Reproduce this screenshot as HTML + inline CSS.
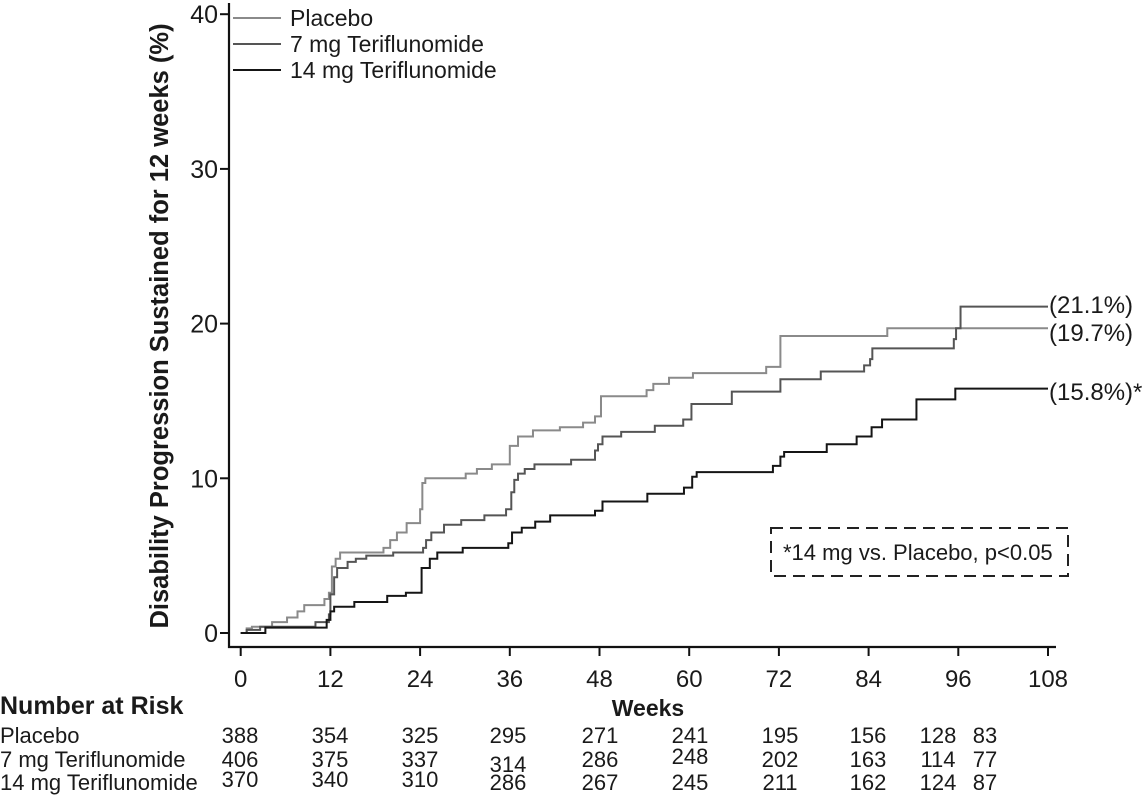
<!DOCTYPE html>
<html><head><meta charset="utf-8"><style>
body{margin:0;background:#fff;}
svg text{font-family:"Liberation Sans",Arial,sans-serif;fill:#1a1a1a;}
</style></head><body>
<svg id="chart" width="1144" height="801" viewBox="0 0 1144 801" xmlns="http://www.w3.org/2000/svg">
<g id="axes"></g>
<g id="series"></g>
<g id="legend"></g>
<g id="risk"></g>
<text x="168" y="326" font-size="25.5" font-weight="bold" text-anchor="middle" transform="rotate(-90 168 326)">Disability Progression Sustained for 12 weeks (%)</text>
<text x="648" y="716" font-size="23" font-weight="bold" text-anchor="middle">Weeks</text>
<text x="0" y="714" font-size="25" font-weight="bold">Number at Risk</text>
<rect x="771" y="528" width="297" height="48" fill="none" stroke="#222" stroke-width="2" stroke-dasharray="12,7"/>
<text x="783" y="560" font-size="22">*14 mg vs. Placebo, p&lt;0.05</text>
</svg>
<script>
const xTicks=[0,12,24,36,48,60,72,84,96,108];
const yTicks=[0,10,20,30,40];
const seriesNames=["Placebo","7 mg Teriflunomide","14 mg Teriflunomide"];
const seriesColors=["#8a8a8a","#555","#151515"];
const placeboWeeks=[0,0.8,1.5,4.2,6.2,7.6,8.5,11.2,11.8,12.2,12.7,13.3,19.1,20,20.9,22.2,24,24.3,24.7,30.1,31.6,33.6,36,37.1,39.1,42.7,45.8,47.4,48.2,54.3,55.2,57.3,60.5,70.3,72.2,86.5,108];
const placeboVals=[0,0.3,0.4,0.7,1.0,1.4,1.8,2.2,2.6,4.3,4.8,5.2,5.5,6.0,6.5,7.1,8.0,9.7,10.0,10.3,10.6,10.9,12.1,12.7,13.1,13.3,13.6,14.0,15.3,15.7,16.1,16.5,16.8,17.2,19.2,19.7,19.7];
const mg7Weeks=[0,0.8,2.6,10,11.8,12,12.5,12.9,14.3,15.4,16.8,20.4,24.4,24.8,25.5,27.2,29.5,32.6,35.5,36.2,36.6,37.1,38,39.3,44.2,47.4,47.8,48.4,50.9,55.4,59.2,60.3,65.7,72.2,77.6,83.4,84.2,84.5,95.4,95.7,96.3,108];
const mg7Vals=[0,0.2,0.4,0.7,1.2,2.5,3.6,4.2,4.6,4.8,5.0,5.2,5.5,6.0,6.5,7.0,7.3,7.6,8.0,9.1,9.9,10.3,10.6,10.9,11.2,11.8,12.2,12.7,13.0,13.4,13.8,14.8,15.6,16.4,16.9,17.3,17.7,18.4,19.0,19.7,21.1,21.1];
const mg14Weeks=[0,3.3,11.5,12,12.5,15.2,19.6,22.1,24.2,25.3,26.3,29.7,35.8,36.3,37.6,39.4,41.4,47.4,48.4,54.4,59.3,60.4,61,71.2,72.2,72.7,78.4,82.4,84.4,85.8,90.4,95.6,108];
const mg14Vals=[0,0.35,0.85,1.4,1.7,2.0,2.4,2.6,4.2,4.8,5.2,5.5,5.8,6.5,6.8,7.2,7.6,7.9,8.5,9.0,9.4,10.1,10.4,10.8,11.4,11.7,12.2,12.7,13.3,13.8,15.1,15.8,15.8];
const endLabels=["(19.7%)","(21.1%)","(15.8%)*"];
const riskPlacebo=[388,354,325,295,271,241,195,156,128,83];
const risk7=[406,375,337,314,286,248,202,163,114,77];
const risk14=[370,340,310,286,267,245,211,162,124,87];
const NS="http://www.w3.org/2000/svg";
const X=w=>240.7+w*7.475, Y=v=>633-v*15.47;
function mk(tag,attrs,parent,txt){const e=document.createElementNS(NS,tag);for(const k in attrs)e.setAttribute(k,attrs[k]);if(txt!==undefined)e.textContent=txt;parent.appendChild(e);return e;}
const ax=document.getElementById('axes');
let e=mk('path',{d:'M229,3 V647 H1056',fill:'none',stroke:'#111','stroke-width':2.2},ax);


xTicks.forEach(t=>{
 let l=mk('line',{x1:X(t),x2:X(t),y1:647,y2:656,stroke:'#111','stroke-width':2},ax);
 
 
 let tx=mk('text',{x:X(t),y:687,'font-size':24,'text-anchor':'middle'},ax,t);
 
 
});
yTicks.forEach(t=>{
 let l=mk('line',{x1:220,x2:229,y1:Y(t),y2:Y(t),stroke:'#111','stroke-width':2},ax);
 
 
 let tx=mk('text',{x:218,y:Y(t)+9,'font-size':25,'text-anchor':'end'},ax,t);
 
 
});
const sg=document.getElementById('series');
const data=[[placeboWeeks,placeboVals],[mg7Weeks,mg7Vals],[mg14Weeks,mg14Vals]];
const labelY=[341,313,400];
const sNames=['placebo-curve','7mg-curve','14mg-curve'];
data.forEach(([ws,vs],i)=>{
 let d='M'+X(ws[0])+','+Y(vs[0]);
 for(let k=1;k<ws.length;k++){d+=' H'+X(ws[k])+' V'+Y(vs[k]);}
 let p=mk('path',{d:d,fill:'none',stroke:seriesColors[i],'stroke-width':2},sg);
 
 
 let lb=mk('text',{x:1049,y:labelY[i],'font-size':24},sg,endLabels[i]);
 
 
});
const lg=document.getElementById('legend');
seriesNames.forEach((n,i)=>{
 let y=18+i*26;
 let l=mk('line',{x1:233,x2:281,y1:y,y2:y,stroke:seriesColors[i],'stroke-width':2},lg);
 
 
 let t=mk('text',{x:290,y:y+8,'font-size':23},lg,n);
 
 
});
const rg=document.getElementById('risk');
const rowNames=["Placebo","7 mg Teriflunomide","14 mg Teriflunomide"];
const rowData=[riskPlacebo,risk7,risk14];
const rowY=[743,767,790];
const colX=[240,330,420,508,600,690,780,868,938,985];
const rowYOff=[[0,0,0,0,0,0,0,0,0,0],[0,0,0,5,0,-3,0,0,0,0],[-3,-3,-3,0,0,0,0,0,0,0]];
rowNames.forEach((n,r)=>{
 let t=mk('text',{x:0,y:rowY[r],'font-size':22},rg,n);
 
 
 rowData[r].forEach((v,c)=>{
  let tv=mk('text',{x:colX[c],y:rowY[r]+rowYOff[r][c],'font-size':22,'text-anchor':'middle'},rg,v);
  
  
 });
});
</script>
</body></html>
